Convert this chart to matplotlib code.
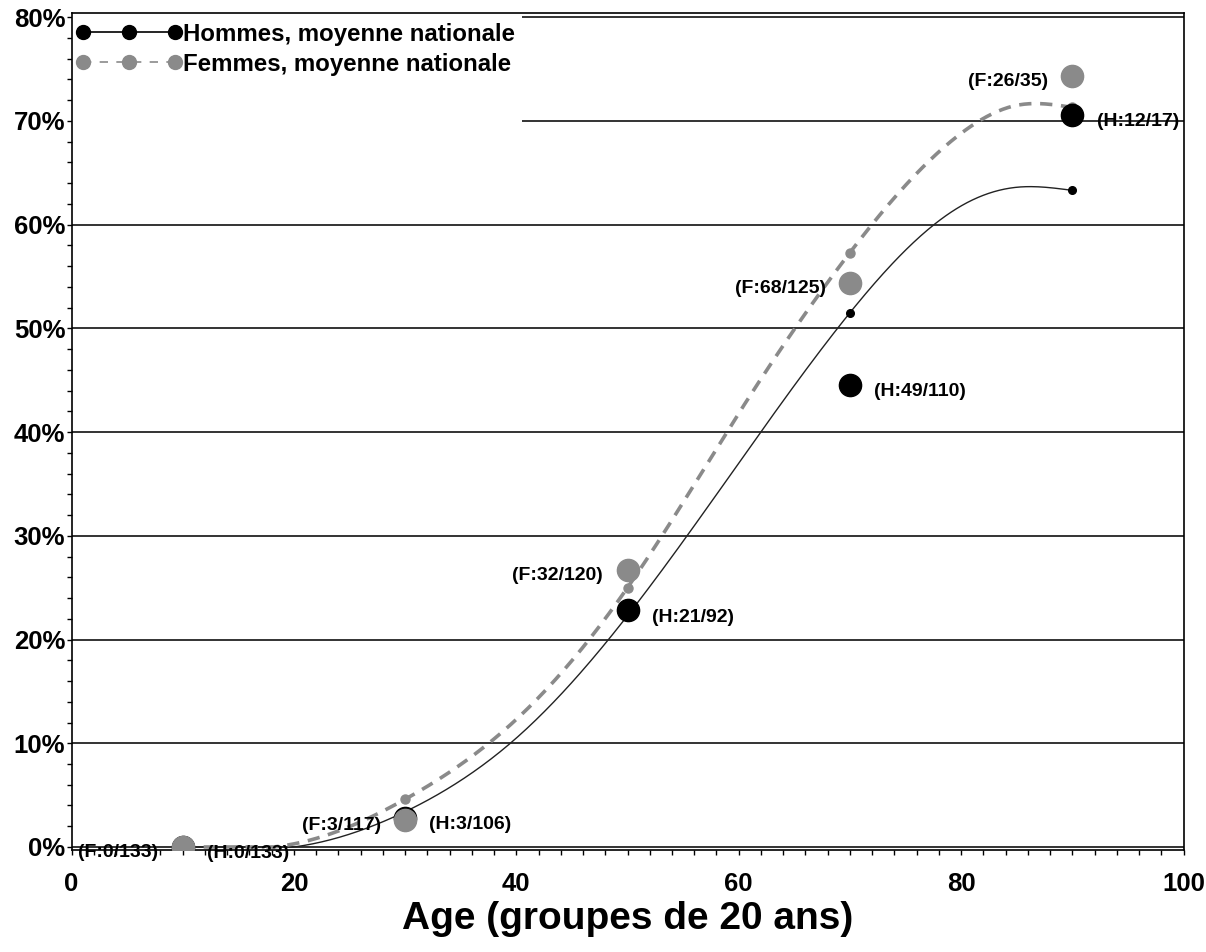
import numpy as np
import matplotlib
matplotlib.use("Agg")
import matplotlib.pyplot as plt
from matplotlib.patches import Rectangle
from matplotlib.ticker import MultipleLocator, FuncFormatter

plt.rcParams['font.family'] = ['Liberation Sans', 'DejaVu Sans']
plt.rcParams['font.weight'] = 'bold'

# Observed proportions per age group (cases / total)
ages = [10, 30, 50, 70, 90]
men_cases = [0, 3, 21, 49, 12]
men_total = [133, 106, 92, 110, 17]
women_cases = [0, 3, 32, 68, 26]
women_total = [133, 117, 120, 125, 35]

# National average curves (percent)
curve_ages = [10, 20, 30, 40, 50, 60, 70, 80, 85, 90]
men_national = [0, 0, 3.4, 10.5, 22.3, 37.0, 51.5, 61.8, 63.6, 63.3]
women_national = [0, 0.3, 4.6, 12.3, 25.0, 41.8, 57.3, 68.8, 71.5, 71.3]

men_label = "Hommes, moyenne nationale"
women_label = "Femmes, moyenne nationale"

BLACK = "#000000"
GREY = "#8a8a8a"


def natural_spline(x, y, xs):
    x = np.asarray(x, float)
    y = np.asarray(y, float)
    n = len(x)
    h = np.diff(x)
    A = np.zeros((n, n))
    b = np.zeros(n)
    A[0, 0] = A[-1, -1] = 1.0
    for i in range(1, n - 1):
        A[i, i - 1] = h[i - 1]
        A[i, i] = 2 * (h[i - 1] + h[i])
        A[i, i + 1] = h[i]
        b[i] = 6 * ((y[i + 1] - y[i]) / h[i] - (y[i] - y[i - 1]) / h[i - 1])
    M = np.linalg.solve(A, b)
    idx = np.clip(np.searchsorted(x, xs) - 1, 0, n - 2)
    x0, x1 = x[idx], x[idx + 1]
    hh = x1 - x0
    out = (M[idx] * (x1 - xs) ** 3 / (6 * hh) + M[idx + 1] * (xs - x0) ** 3 / (6 * hh)
           + (y[idx] / hh - M[idx] * hh / 6) * (x1 - xs)
           + (y[idx + 1] / hh - M[idx + 1] * hh / 6) * (xs - x0))
    return np.maximum(out, 0)


men_pct = [100 * c / t for c, t in zip(men_cases, men_total)]
women_pct = [100 * c / t for c, t in zip(women_cases, women_total)]

fig = plt.figure(figsize=(12.06, 9.52), dpi=100)
ax = fig.add_axes([71.5 / 1206, 1 - 850 / 952, 1112 / 1206, 837 / 952])
ax.set_xlim(0, 100)
ax.set_ylim(-0.29, 80.4)

# horizontal grid
ax.yaxis.set_major_locator(MultipleLocator(10))
ax.yaxis.set_minor_locator(MultipleLocator(2))
ax.xaxis.set_major_locator(MultipleLocator(20))
ax.xaxis.set_minor_locator(MultipleLocator(2))
ax.grid(axis='y', which='major', color='#111111', linewidth=1.2)
ax.set_axisbelow(True)
ax.yaxis.set_major_formatter(FuncFormatter(lambda v, p: f"{v:.0f}%"))

ax.tick_params(axis='both', which='both', direction='out', length=3.5, width=1,
               color='black')
ax.tick_params(axis='y', labelsize=18.5, pad=1)
ax.tick_params(axis='x', labelsize=18.5, pad=12)
for s in ax.spines.values():
    s.set_linewidth(1.2)

# white panel behind the legend
ax.add_patch(Rectangle((0, 0.8686), 0.405, 0.1314, transform=ax.transAxes,
                       facecolor='white', edgecolor='none', zorder=1))

xs = np.linspace(curve_ages[0], curve_ages[-1], 500)
ax.plot(xs, natural_spline(curve_ages, men_national, xs), color='#222222',
        linewidth=1.0, zorder=2)
ax.plot(xs, natural_spline(curve_ages, women_national, xs), color=GREY,
        linewidth=2.6, dashes=(3.4, 2.4), zorder=2)

node_idx = [curve_ages.index(a) for a in ages[1:]]
ax.plot(ages[1:], [men_national[i] for i in node_idx], 'o', color=BLACK,
        markersize=5.5, zorder=3)
ax.plot(ages[1:], [women_national[i] for i in node_idx], 'o', color=GREY,
        markersize=6.5, zorder=3)

# legend proxies
h_men, = ax.plot([], [], '-o', color=BLACK, linewidth=1.2, markersize=10)
h_women, = ax.plot([], [], 'o', color=GREY, linewidth=1.2, markersize=10,
                   linestyle=(0, (5, 5)))
leg = ax.legend([h_men, h_women], [men_label, women_label], loc='upper left',
                bbox_to_anchor=(-0.0045, 1.0), frameon=False, numpoints=3,
                handlelength=4.4, handletextpad=0.05, labelspacing=0.3,
                borderpad=0.3, borderaxespad=0.1,
                prop={'size': 17.3, 'weight': 'bold'})
leg.set_zorder(6)

# observed proportions
ax.plot(ages, men_pct, 'o', color=BLACK, markersize=16, zorder=4)
ax.plot(ages, women_pct, 'o', color=GREY, markersize=16, zorder=5)

for a, c, t, p in zip(ages, men_cases, men_total, men_pct):
    ax.annotate(f"(H:{c}/{t})", (a, p), xytext=(17.5, -5), textcoords='offset points',
                ha='left', va='center', fontsize=14, fontweight='bold', zorder=6)
for a, c, t, p in zip(ages, women_cases, women_total, women_pct):
    ax.annotate(f"(F:{c}/{t})", (a, p), xytext=(-17.5, -4), textcoords='offset points',
                ha='right', va='center', fontsize=14, fontweight='bold', zorder=6)

ax.set_xlabel("Age (groupes de 20 ans)", fontsize=28, fontweight='bold', labelpad=4)

fig.savefig("out.png", dpi=100)
